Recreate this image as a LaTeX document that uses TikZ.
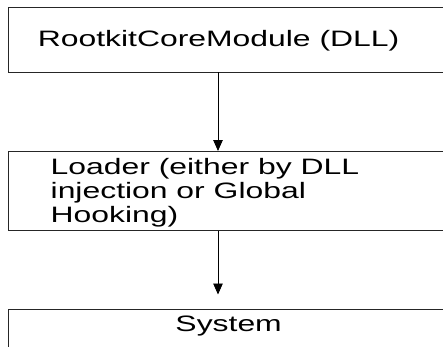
\documentclass[tikz,border=0pt]{standalone}
\usepackage{fontspec}
\setmainfont{Liberation Sans}
\usetikzlibrary{arrows.meta}
\begin{document}
\begin{tikzpicture}[x=1pt,y=-1pt,
  boxframe/.style={draw=black!85, line width=0.9pt, rectangle, inner sep=0pt, minimum width=470pt, anchor=north west},
  boxtext/.style={inner sep=0pt, anchor=base west, xscale=1.43, align=left, font=\fontsize{22.3pt}{24pt}\selectfont},
  conn/.style={draw=black, line width=0.9pt, -{Triangle[length=11pt,width=9.5pt]}}]
\useasboundingbox (0,0) rectangle (443,346);
\fill[white] (0,0) rectangle (443,346);
\clip (0,0) rectangle (443,346);
\node[boxframe, minimum height=64.5pt] (core) at (8,7) {};
\node[boxframe, minimum height=79pt] (loader) at (8,151) {};
\node[boxframe, minimum height=60pt] (system) at (8,308.5) {};
\node[boxtext] (coretext) at (37.5,46.7) {RootkitCoreModule (DLL)};
\node[boxtext, anchor=north west] (loadertext) at (50.4,158) {Loader (either by DLL\\injection or Global\\Hooking)};
\node[boxtext] (systemtext) at (175.2,331.7) {System};
\draw[conn] ([xshift=210pt]core.south west) -- ([xshift=210pt]loader.north west);
\draw[conn] ([xshift=210pt]loader.south west) -- ([xshift=210pt,yshift=14pt]system.north west);
\end{tikzpicture}
\end{document}
